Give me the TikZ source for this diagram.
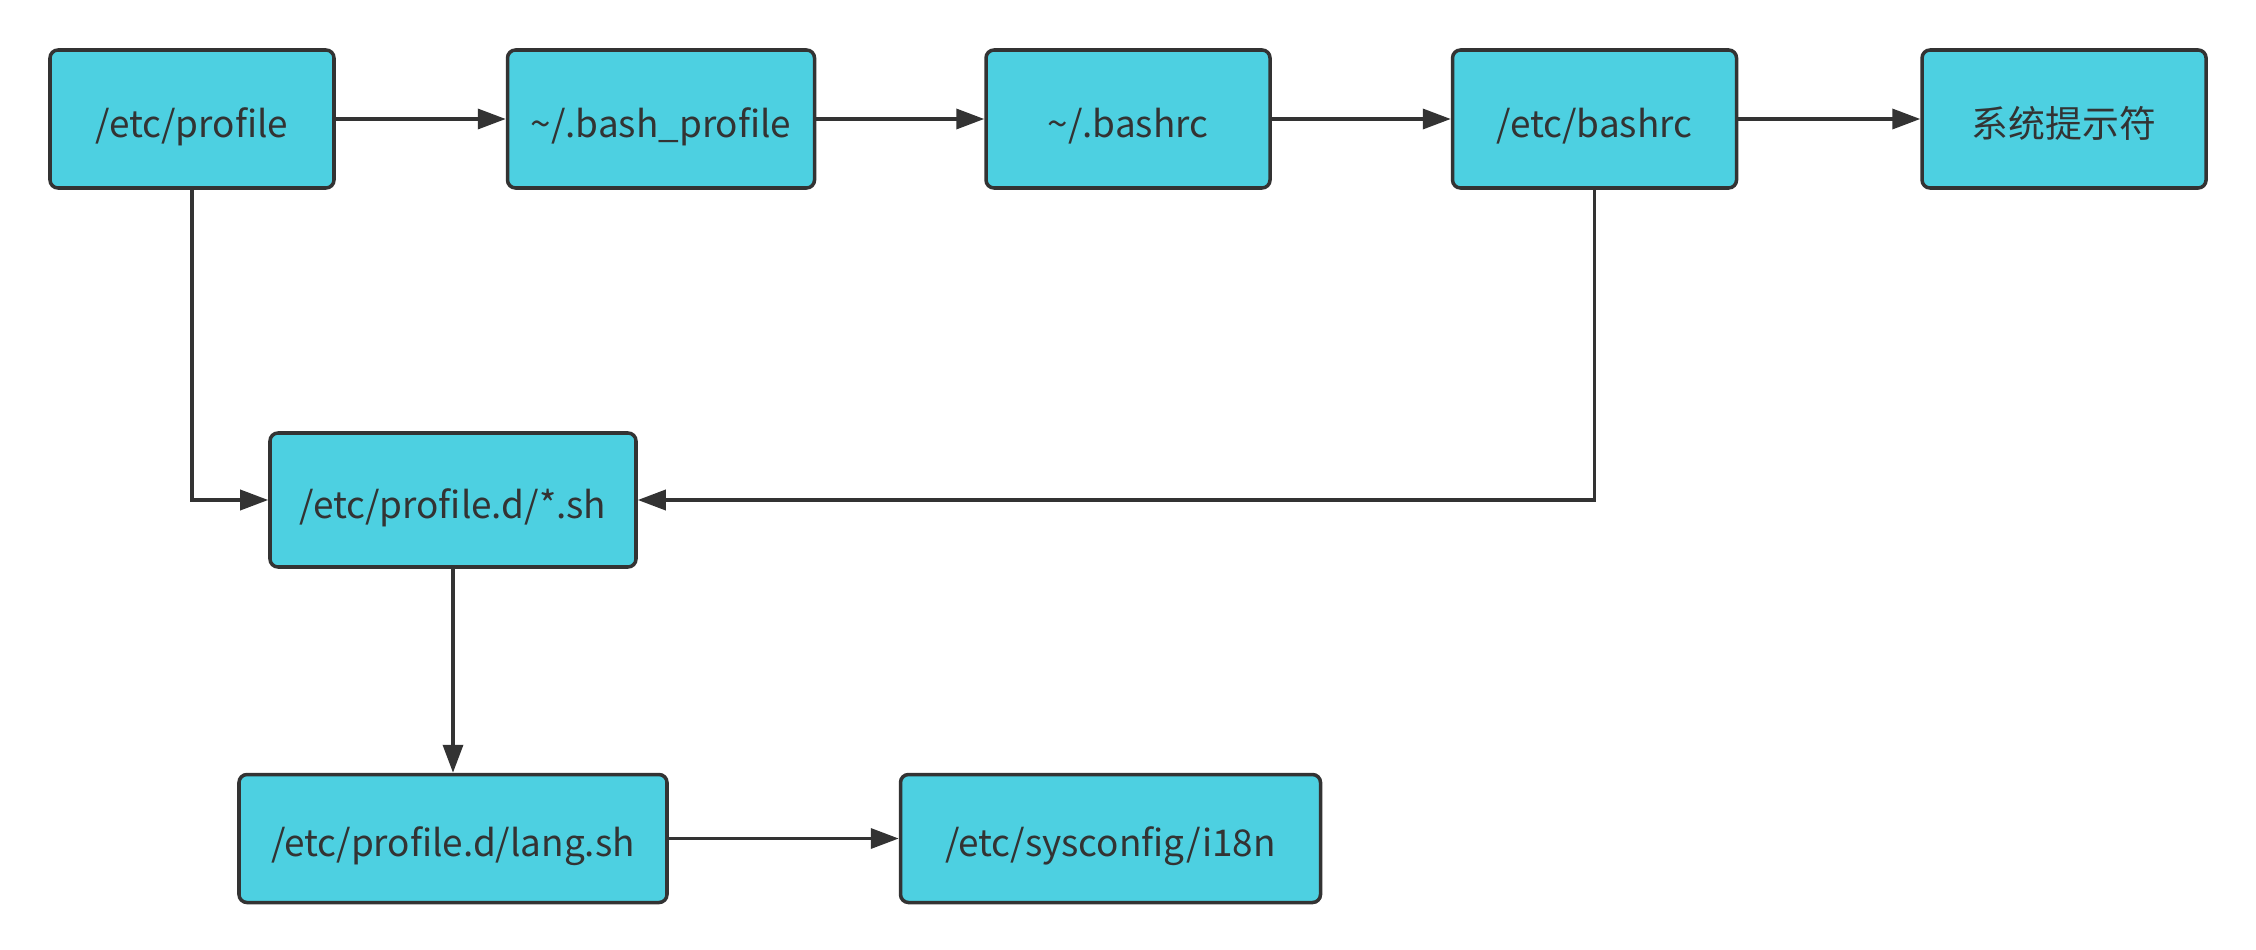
\documentclass[tikz,border=0pt]{standalone}
\usepackage{fontspec}
\setmainfont{Noto Sans CJK SC}
\usetikzlibrary{positioning, arrows.meta}
\definecolor{boxfill}{HTML}{4DD0E1}
\definecolor{edge}{HTML}{333333}

\begin{document}
\begin{tikzpicture}[>={Triangle[length=0.28cm, width=0.2cm]}, line width=1pt,
    file/.style={draw=edge, fill=boxfill, rounded corners=0.08cm, minimum width=2.84cm,
    minimum height=1.38cm, align=center, text=edge, text height=10.5pt, text depth=0pt,
    font=\fontsize{10.5}{13}\selectfont},
    line/.style={->, draw=edge}]
  \useasboundingbox (0,0) rectangle (22.56,-9.5);

  \node[file] (prof) at (1.92,-1.19) {/etc/profile};
  \node[file, minimum width=3.07cm, right=1.70cm of prof] (bprof) {\textasciitilde/.bash\_profile};
  \node[file, right=1.68cm of bprof] (brc) {\textasciitilde/.bashrc};
  \node[file, right=1.79cm of brc] (ebrc) {/etc/bashrc};
  \node[file, right=1.82cm of ebrc] (prompt) {系统提示符};
  \node[file, minimum width=3.66cm, minimum height=1.34cm] (profd) at (4.53,-5.00) {/etc/profile.d/*.sh};
  \node[file, minimum width=4.28cm, minimum height=1.28cm, below=2.04cm of profd] (lang) {/etc/profile.d/lang.sh};
  \node[file, minimum width=4.20cm, minimum height=1.28cm, right=2.30cm of lang] (i18n) {/etc/sysconfig/i18n};

  \draw[line] (prof) -- (bprof);
  \draw[line] (bprof) -- (brc);
  \draw[line] (brc) -- (ebrc);
  \draw[line] (ebrc) -- (prompt);
  \draw[line] (prof.south) |- (profd.west);
  \draw[line] (ebrc.south) |- (profd.east);
  \draw[line] (profd) -- (lang);
  \draw[line] (lang) -- (i18n);

\end{tikzpicture}
\end{document}
